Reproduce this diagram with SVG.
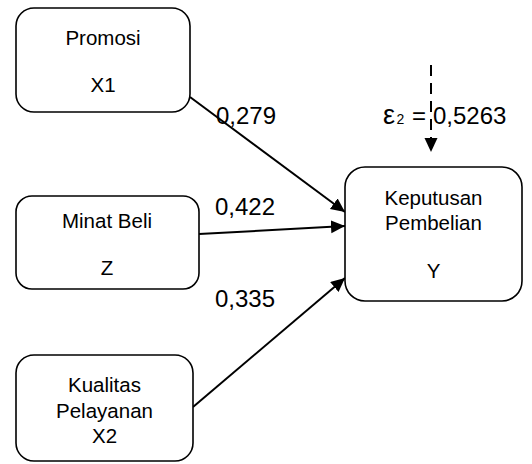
<svg xmlns="http://www.w3.org/2000/svg" width="532" height="464" viewBox="0 0 532 464">
<defs>
<marker id="ah" markerUnits="userSpaceOnUse" markerWidth="16" markerHeight="14" refX="14" refY="6.5" orient="auto">
<path d="M0,0 L14,6.5 L0,13 Z" fill="#000"/>
</marker>
<style>
.box{fill:#fff;stroke:#000;stroke-width:1.6}
.t{font-family:"Liberation Sans",Arial,sans-serif;font-size:20.5px;fill:#000;text-anchor:middle}
.lbl{font-family:"Liberation Sans",Arial,sans-serif;font-size:24px;fill:#000}
.c{stroke:#000;stroke-width:2;fill:none}
</style>
</defs>
<rect width="532" height="464" fill="#fff"/>
<g id="connectors">
<line class="c" x1="190" y1="97" x2="345" y2="212" marker-end="url(#ah)"/>
<line class="c" x1="199" y1="234" x2="345" y2="226" marker-end="url(#ah)"/>
<line class="c" x1="193" y1="407" x2="345" y2="278" marker-end="url(#ah)"/>
<line class="c" x1="431" y1="65" x2="431" y2="152" stroke-dasharray="11,7" marker-end="url(#ah)"/>
</g>
<g id="promosi">
<rect class="box" x="16" y="8" width="174" height="104" rx="18"/>
<text class="t" x="103" y="45">Promosi</text>
<text class="t" x="103" y="92">X1</text>
</g>
<g id="minat">
<rect class="box" x="16" y="196" width="183" height="93" rx="16"/>
<text class="t" x="107" y="228">Minat Beli</text>
<text class="t" x="107" y="275">Z</text>
</g>
<g id="kualitas">
<rect class="box" x="16" y="355" width="177" height="106" rx="18"/>
<text class="t" x="104.5" y="392">Kualitas</text>
<text class="t" x="104.5" y="418">Pelayanan</text>
<text class="t" x="104.5" y="443">X2</text>
</g>
<g id="keputusan">
<rect class="box" x="345" y="167" width="177" height="134" rx="20"/>
<text class="t" x="433.5" y="205">Keputusan</text>
<text class="t" x="433.5" y="230">Pembelian</text>
<text class="t" x="433.5" y="278">Y</text>
</g>
<g id="labels">
<text class="lbl" x="383" y="124" style="font-size:27px">ε</text>
<text class="lbl" x="396.5" y="124" style="font-size:14px">2</text>
<text class="lbl" x="412" y="124">=</text>
<text class="lbl" x="433" y="124">0,5263</text>
<text class="lbl" x="216" y="124">0,279</text>
<text class="lbl" x="215" y="215">0,422</text>
<text class="lbl" x="215" y="307">0,335</text>
</g>
</svg>
